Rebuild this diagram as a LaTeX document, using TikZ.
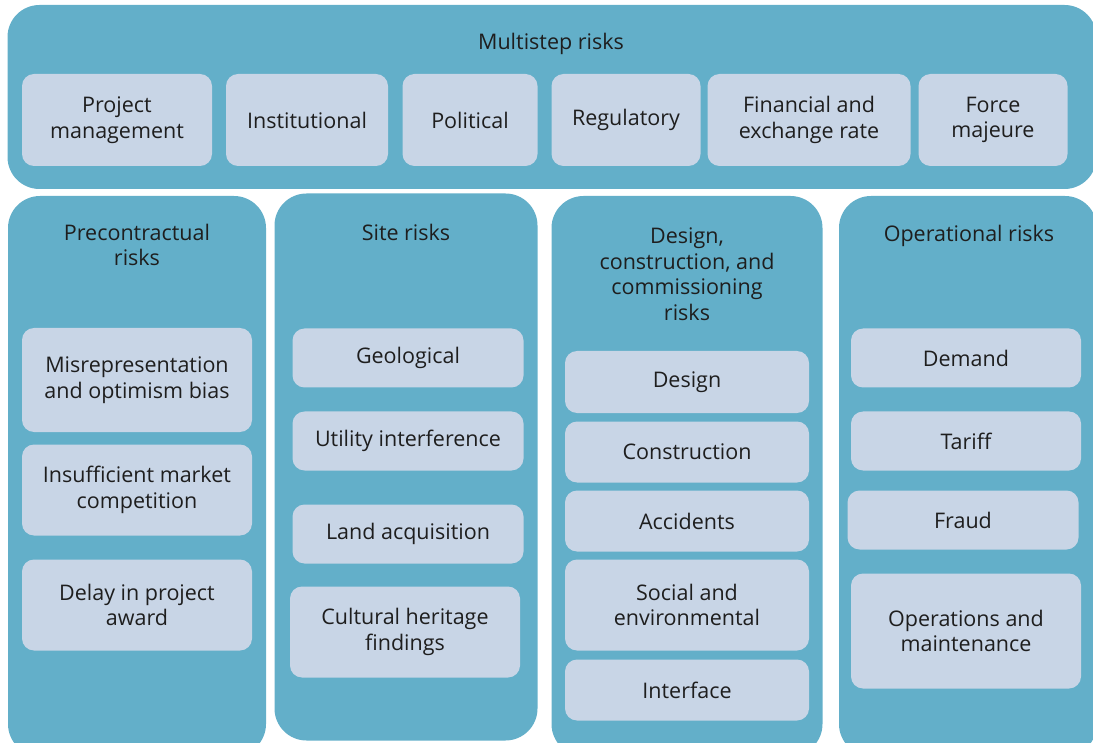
\documentclass[tikz,border=0pt]{standalone}
\usepackage{fontspec}
\setmainfont{Open Sans}
\usepackage{xcolor}
\usetikzlibrary{positioning}
\definecolor{grouptea}{HTML}{63AFC9}
\definecolor{itemgray}{HTML}{C8D5E6}
\definecolor{inktext}{HTML}{1E1E1E}

\begin{document}
\begin{tikzpicture}[
    x=1pt, y=-1pt,
    group/.style={rectangle, rounded corners=32pt, fill=grouptea,
                  inner sep=0pt, outer sep=0pt},
    item/.style={rectangle, rounded corners=12pt, fill=itemgray,
                 inner sep=0pt, outer sep=0pt, align=center,
                 text=inktext},
    head/.style={align=center, text=inktext, inner sep=0pt},
    every node/.style={font=\fontsize{21.5}{25.5}\selectfont}
]
    \useasboundingbox (0,0) rectangle (1093,743);

    % Multistep band
    \node[group, minimum width=1089, minimum height=184] (multi) at (552,97) {};
    \node[head] (multititle) at (551,44) {Multistep risks};
    \node[item, minimum width=190, minimum height=92] (pm) at (117,120) {Project\\management};
    \node[item, minimum width=162, minimum height=92] (inst) at (307,120) {Institutional};
    \node[item, minimum width=135, minimum height=92] (pol) at (470,120) {Political};
    \node[item, minimum width=149, minimum height=92] (reg) at (626,120) {Regulatory};
    \node[item, minimum width=203, minimum height=92] (fin) at (809,120) {Financial and\\exchange rate};
    \node[item, minimum width=149, minimum height=92] (force) at (993,120) {Force\\majeure};

    % Precontractual
    \node[group, minimum width=258, minimum height=560] (pre) at (137,476) {};
    \node[head] (pretitle) at (137,245) {Precontractual\\risks};
    \node[item, minimum width=230, minimum height=104] (misrep) at (137,380) {Misrepresentation\\and optimism bias};
    \node[item, minimum width=230, minimum height=91] (compet) at (137,490) {Insufficient market\\competition};
    \node[item, minimum width=230, minimum height=91] (delay) at (137,605) {Delay in project\\award};

    % Site
    \node[group, minimum width=263, minimum height=547] (site) at (406,467) {};
    \node[head] (sitetitle) at (406,232) {Site risks};
    \node[item, minimum width=231, minimum height=59] (geo) at (408,358) {Geological};
    \node[item, minimum width=231, minimum height=59] (util) at (408,441) {Utility interference};
    \node[item, minimum width=231, minimum height=59] (land) at (408,534) {Land acquisition};
    \node[item, minimum width=230, minimum height=91] (cult) at (405,632) {Cultural heritage\\findings};

    % Design, construction, commissioning
    \node[group, minimum width=271, minimum height=560] (dcc) at (687,476) {};
    \node[head] (dcctitle) at (687,274) {Design,\\construction, and\\commissioning\\risks};
    \node[item, minimum width=244, minimum height=62] (design) at (687,382) {Design};
    \node[item, minimum width=244, minimum height=61] (constr) at (687,452) {Construction};
    \node[item, minimum width=244, minimum height=61] (accid) at (687,521) {Accidents};
    \node[item, minimum width=244, minimum height=91] (social) at (687,605) {Social and\\environmental};
    \node[item, minimum width=244, minimum height=61] (interf) at (687,690) {Interface};

    % Operational
    \node[group, minimum width=258, minimum height=560] (oper) at (968,476) {};
    \node[head] (opertitle) at (969,236) {Operational risks};
    \node[item, minimum width=230, minimum height=59] (demand) at (966,358) {Demand};
    \node[item, minimum width=230, minimum height=59] (tariff) at (966,441) {Tariff};
    \node[item, minimum width=231, minimum height=59] (fraud) at (963,520) {Fraud};
    \node[item, minimum width=230, minimum height=115] (om) at (966,631) {Operations and\\maintenance};
\end{tikzpicture}
\end{document}
